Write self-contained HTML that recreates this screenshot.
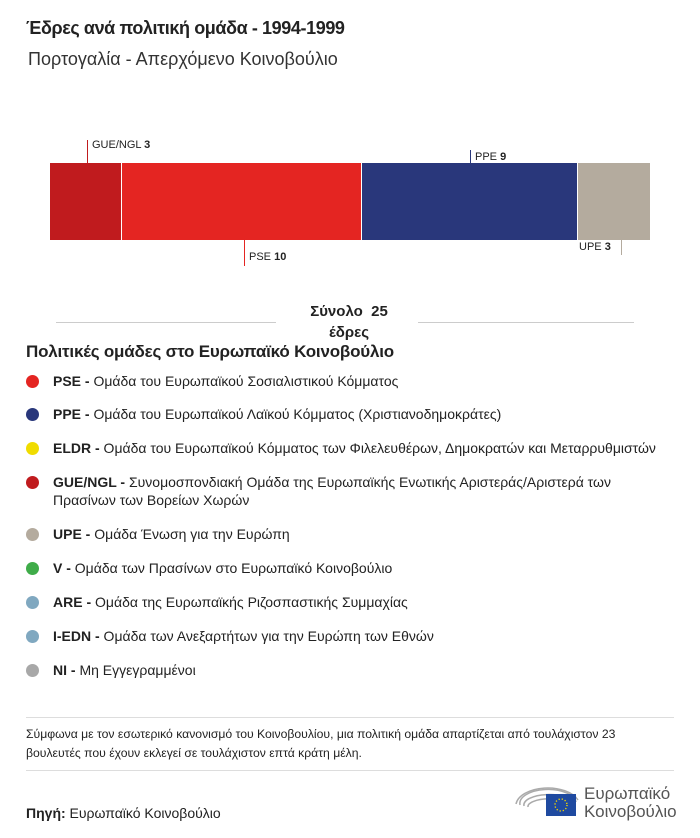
<!DOCTYPE html>
<html><head><meta charset="utf-8"><style>
body{margin:0;width:700px;height:838px;background:#fff;font-family:"Liberation Sans","DejaVu Sans",sans-serif;color:#222;position:relative;overflow:hidden}
.a{position:absolute;white-space:nowrap}
.dot{position:absolute;width:13px;height:13px;border-radius:50%;left:26px}
.lg{position:absolute;left:53px;font-size:14px;line-height:18px}
</style></head><body>
<div class="a" style="left:26px;top:18px;font-size:18px;font-weight:bold;letter-spacing:-0.4px">Έδρες ανά πολιτική ομάδα - 1994-1999</div>
<div class="a" style="left:28px;top:49px;font-size:18px;color:#333">Πορτογαλία - Απερχόμενο Κοινοβούλιο</div>

<div class="a" style="left:50px;top:163px;width:71px;height:77px;background:#c01b1e"></div>
<div class="a" style="left:122px;top:163px;width:239px;height:77px;background:#e42522"></div>
<div class="a" style="left:362px;top:163px;width:215px;height:77px;background:#29377b"></div>
<div class="a" style="left:578px;top:163px;width:72px;height:77px;background:#b4ab9e"></div>

<div class="a" style="left:87px;top:140px;width:1px;height:23px;background:#c01b1e"></div>
<div class="a" style="left:92px;top:139px;font-size:11px">GUE/NGL <b>3</b></div>
<div class="a" style="left:470px;top:150px;width:1px;height:13px;background:#29377b"></div>
<div class="a" style="left:475px;top:151px;font-size:11px">PPE <b>9</b></div>
<div class="a" style="left:244px;top:240px;width:1px;height:26px;background:#e42522"></div>
<div class="a" style="left:249px;top:251px;font-size:11px">PSE <b>10</b></div>
<div class="a" style="left:621px;top:240px;width:1px;height:15px;background:#b4ab9e"></div>
<div class="a" style="left:579px;top:241px;font-size:11px">UPE <b>3</b></div>

<div class="a" style="left:56px;top:322px;width:220px;height:1px;background:#ccc"></div>
<div class="a" style="left:418px;top:322px;width:216px;height:1px;background:#ccc"></div>
<div class="a" style="left:280px;top:301px;width:138px;text-align:center;font-size:15px;font-weight:bold;line-height:21px;white-space:normal">Σύνολο &nbsp;25<br>έδρες</div>

<div class="a" style="left:26px;top:342px;font-size:17px;font-weight:bold;letter-spacing:-0.2px">Πολιτικές ομάδες στο Ευρωπαϊκό Κοινοβούλιο</div>

<div class="dot" style="top:375px;background:#e42522"></div><div class="lg" style="top:372px"><b>PSE -</b> Ομάδα του Ευρωπαϊκού Σοσιαλιστικού Κόμματος</div>
<div class="dot" style="top:408px;background:#29377b"></div><div class="lg" style="top:405px"><b>PPE -</b> Ομάδα του Ευρωπαϊκού Λαϊκού Κόμματος (Χριστιανοδημοκράτες)</div>
<div class="dot" style="top:442px;background:#f0dc00"></div><div class="lg" style="top:439px"><b>ELDR -</b> Ομάδα του Ευρωπαϊκού Κόμματος των Φιλελευθέρων, Δημοκρατών και Μεταρρυθμιστών</div>
<div class="dot" style="top:476px;background:#c01b1e"></div><div class="lg" style="top:473px"><b>GUE/NGL -</b> Συνομοσπονδιακή Ομάδα της Ευρωπαϊκής Ενωτικής Αριστεράς/Αριστερά των<br>Πρασίνων των Βορείων Χωρών</div>
<div class="dot" style="top:528px;background:#b4ab9e"></div><div class="lg" style="top:525px"><b>UPE -</b> Ομάδα Ένωση για την Ευρώπη</div>
<div class="dot" style="top:562px;background:#3fac49"></div><div class="lg" style="top:559px"><b>V -</b> Ομάδα των Πρασίνων στο Ευρωπαϊκό Κοινοβούλιο</div>
<div class="dot" style="top:596px;background:#80a8c0"></div><div class="lg" style="top:593px"><b>ARE -</b> Ομάδα της Ευρωπαϊκής Ριζοσπαστικής Συμμαχίας</div>
<div class="dot" style="top:630px;background:#80a8c0"></div><div class="lg" style="top:627px"><b>I-EDN -</b> Ομάδα των Ανεξαρτήτων για την Ευρώπη των Εθνών</div>
<div class="dot" style="top:664px;background:#a8a8a8"></div><div class="lg" style="top:661px"><b>NI -</b> Μη Εγγεγραμμένοι</div>

<div class="a" style="left:26px;top:717px;width:648px;height:1px;background:#ddd"></div>
<div class="a" style="left:26px;top:725px;font-size:12.2px;line-height:19px;white-space:normal;width:648px">Σύμφωνα με τον εσωτερικό κανονισμό του Κοινοβουλίου, μια πολιτική ομάδα απαρτίζεται από τουλάχιστον 23<br>βουλευτές που έχουν εκλεγεί σε τουλάχιστον επτά κράτη μέλη.</div>
<div class="a" style="left:26px;top:770px;width:648px;height:1px;background:#ddd"></div>

<div class="a" style="left:26px;top:805px;font-size:14px"><b>Πηγή:</b> Ευρωπαϊκό Κοινοβούλιο</div>

<svg class="a" style="left:512px;top:780px" width="70" height="40" viewBox="0 0 70 40">
<g fill="none" stroke="#aaa" stroke-width="1.5">
<path d="M4 24 A32 18 0 0 1 66 20"/><path d="M8 25 A28 14 0 0 1 64 22"/><path d="M12 26 A24 10 0 0 1 62 24"/><path d="M16 27 A20 7 0 0 1 60 26"/></g>
<rect x="34" y="14" width="30" height="22" fill="#1f4aa0"/>
<circle cx="49" cy="25" r="6" fill="none" stroke="#f5d800" stroke-width="1.4" stroke-dasharray="1.2 2"/>
</svg>
<div class="a" style="left:584px;top:785px;font-size:17px;line-height:18px;color:#555">Ευρωπαϊκό<br>Κοινοβούλιο</div>
</body></html>
